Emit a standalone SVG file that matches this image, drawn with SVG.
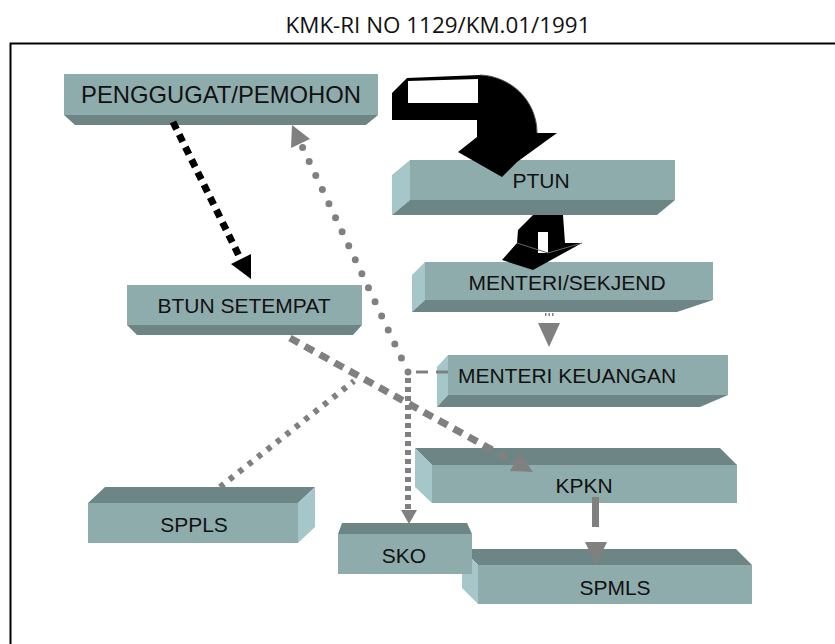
<svg xmlns="http://www.w3.org/2000/svg" width="835" height="644" viewBox="0 0 835 644">
<style>
.main{fill:#8FACAC}
.dark{fill:#6E8585}
.light{fill:#A6C7CA}
.lbl{font-family:"Liberation Sans",Arial,sans-serif;font-size:21px;fill:#111;text-anchor:middle}
.gl{fill:none;stroke:#808080}
.gf{fill:#808080}
</style>
<rect x="0" y="0" width="835" height="644" fill="#fff"/>
<text x="438" y="33" font-family="Open Sans, Liberation Sans, sans-serif" font-size="22.4" fill="#111" text-anchor="middle">KMK-RI NO 1129/KM.01/1991</text>
<path d="M10.5,644 V43.5 H835" fill="none" stroke="#000" stroke-width="2"/>

<g id="node-penggugat">
<rect class="main" x="64" y="74" width="314" height="41"/>
<polygon class="dark" points="64,115 378,115 366,125 75,125"/>
<text class="lbl" x="221" y="103" style="font-size:23.8px">PENGGUGAT/PEMOHON</text>
</g>
<g id="node-ptun">
<rect class="main" x="410" y="160" width="265" height="40"/>
<polygon class="light" points="392,175 410,160 410,200 392,215"/>
<polygon class="dark" points="392,215 410,200 675,200 657,215"/>
<text class="lbl" x="541" y="188">PTUN</text>
</g>
<g id="node-sekjend">
<rect class="main" x="425" y="262" width="288" height="38"/>
<polygon class="light" points="412,275 425,262 425,300 412,312"/>
<polygon class="dark" points="412,312 425,300 713,300 677,312"/>
<text class="lbl" x="567" y="290">MENTERI/SEKJEND</text>
</g>
<g id="node-keuangan">
<rect class="main" x="448" y="355" width="280" height="40"/>
<polygon class="light" points="437,367 448,355 448,395 437,407"/>
<polygon class="dark" points="437,407 448,395 728,395 700,407"/>
<text class="lbl" x="567" y="383">MENTERI KEUANGAN</text>
</g>
<g id="node-btun">
<rect class="main" x="127" y="285" width="235" height="40"/>
<polygon class="dark" points="127,325 362,325 353,335 137,335"/>
<text class="lbl" x="244" y="313">BTUN SETEMPAT</text>
</g>
<g id="node-sppls">
<polygon class="dark" points="105,487 315,487 298,503 88,503"/>
<rect class="main" x="88" y="503" width="210" height="40"/>
<polygon class="light" points="298,503 315,487 315,527 298,543"/>
<text class="lbl" x="194" y="532">SPPLS</text>
</g>
<g id="node-kpkn">
<polygon class="dark" points="415,448 720,448 737,465 432,465"/>
<rect class="main" x="432" y="465" width="305" height="38"/>
<polygon class="light" points="415,448 432,465 432,503 415,487"/>
<text class="lbl" x="584" y="493">KPKN</text>
</g>
<g id="node-spmls">
<polygon class="dark" points="462,549 736,549 752,565 478,565"/>
<rect class="main" x="478" y="565" width="274" height="39"/>
<polygon class="light" points="462,549 478,565 478,604 462,588"/>
<text class="lbl" x="615" y="595">SPMLS</text>
</g>
<g id="node-sko">
<polygon class="dark" points="342,523 467,523 472,534 338,534"/>
<rect class="main" x="338" y="534" width="134" height="40"/>
<text class="lbl" x="404" y="563">SKO</text>
</g>

<g id="connectors">
<!-- big curved block arrow -->
<path d="M392,93 L407,78 L480,75 C510,76 537,100 537,133 L557,133 L517,162 L502,177 L458,152 L477,137 L477,120 L392,120 Z" fill="#000"/>
<polygon points="408,81 478,79 478,103 408,103" fill="#fff"/>
<path d="M480,75 C510,76 537,100 537,133" fill="none" stroke="#555" stroke-width="1"/>
<!-- small block arrow -->
<polygon points="533,215 563,215 565,243 582,243 533,270 502,260 517,243 518,230" fill="#000"/>
<rect x="538" y="232" width="10" height="21" fill="#fff"/>
<path d="M517,243 L548,253 L582,243" fill="none" stroke="#666" stroke-width="1"/>
<!-- black dashed -->
<line x1="173" y1="122" x2="244" y2="266" stroke="#000" stroke-width="7" stroke-dasharray="8 6"/>
<polygon points="251,279 251,254 231,264" fill="#000"/>
<!-- round dots to penggugat -->
<line class="gl" x1="408" y1="372" x2="300" y2="142" stroke-width="7" stroke-linecap="round" stroke-dasharray="0 15.5"/>
<polygon class="gf" points="292,125 310,139 291,148"/>
<line class="gl" x1="448" y1="372" x2="408" y2="372" stroke-width="3" stroke-dasharray="12 8"/>
<!-- vertical to SKO -->
<line class="gl" x1="408" y1="378" x2="408" y2="510" stroke-width="6" stroke-dasharray="5 4"/>
<polygon class="gf" points="401,510 417,510 409,524"/>
<!-- BTUN to KPKN -->
<line class="gl" x1="290" y1="338" x2="514" y2="462" stroke-width="7" stroke-dasharray="10 7"/>
<polygon class="gf" points="533,472 510,471 520,453"/>
<!-- SPPLS dots -->
<line class="gl" x1="220" y1="487" x2="354" y2="381" stroke-width="6" stroke-dasharray="5 7"/>
<!-- KPKN to SPMLS -->
<line class="gl" x1="595.5" y1="497" x2="595.5" y2="527" stroke-width="7"/>
<polygon class="gf" points="585,542 607,542 596,565"/>
<!-- SEKJEND to KEUANGAN -->
<rect class="gf" x="545" y="313" width="1.5" height="3"/>
<rect class="gf" x="548.5" y="313" width="1.5" height="3"/>
<rect class="gf" x="552" y="313" width="1.5" height="3"/>
<polygon class="gf" points="538,323 560,323 549,347"/>
</g>
</svg>
